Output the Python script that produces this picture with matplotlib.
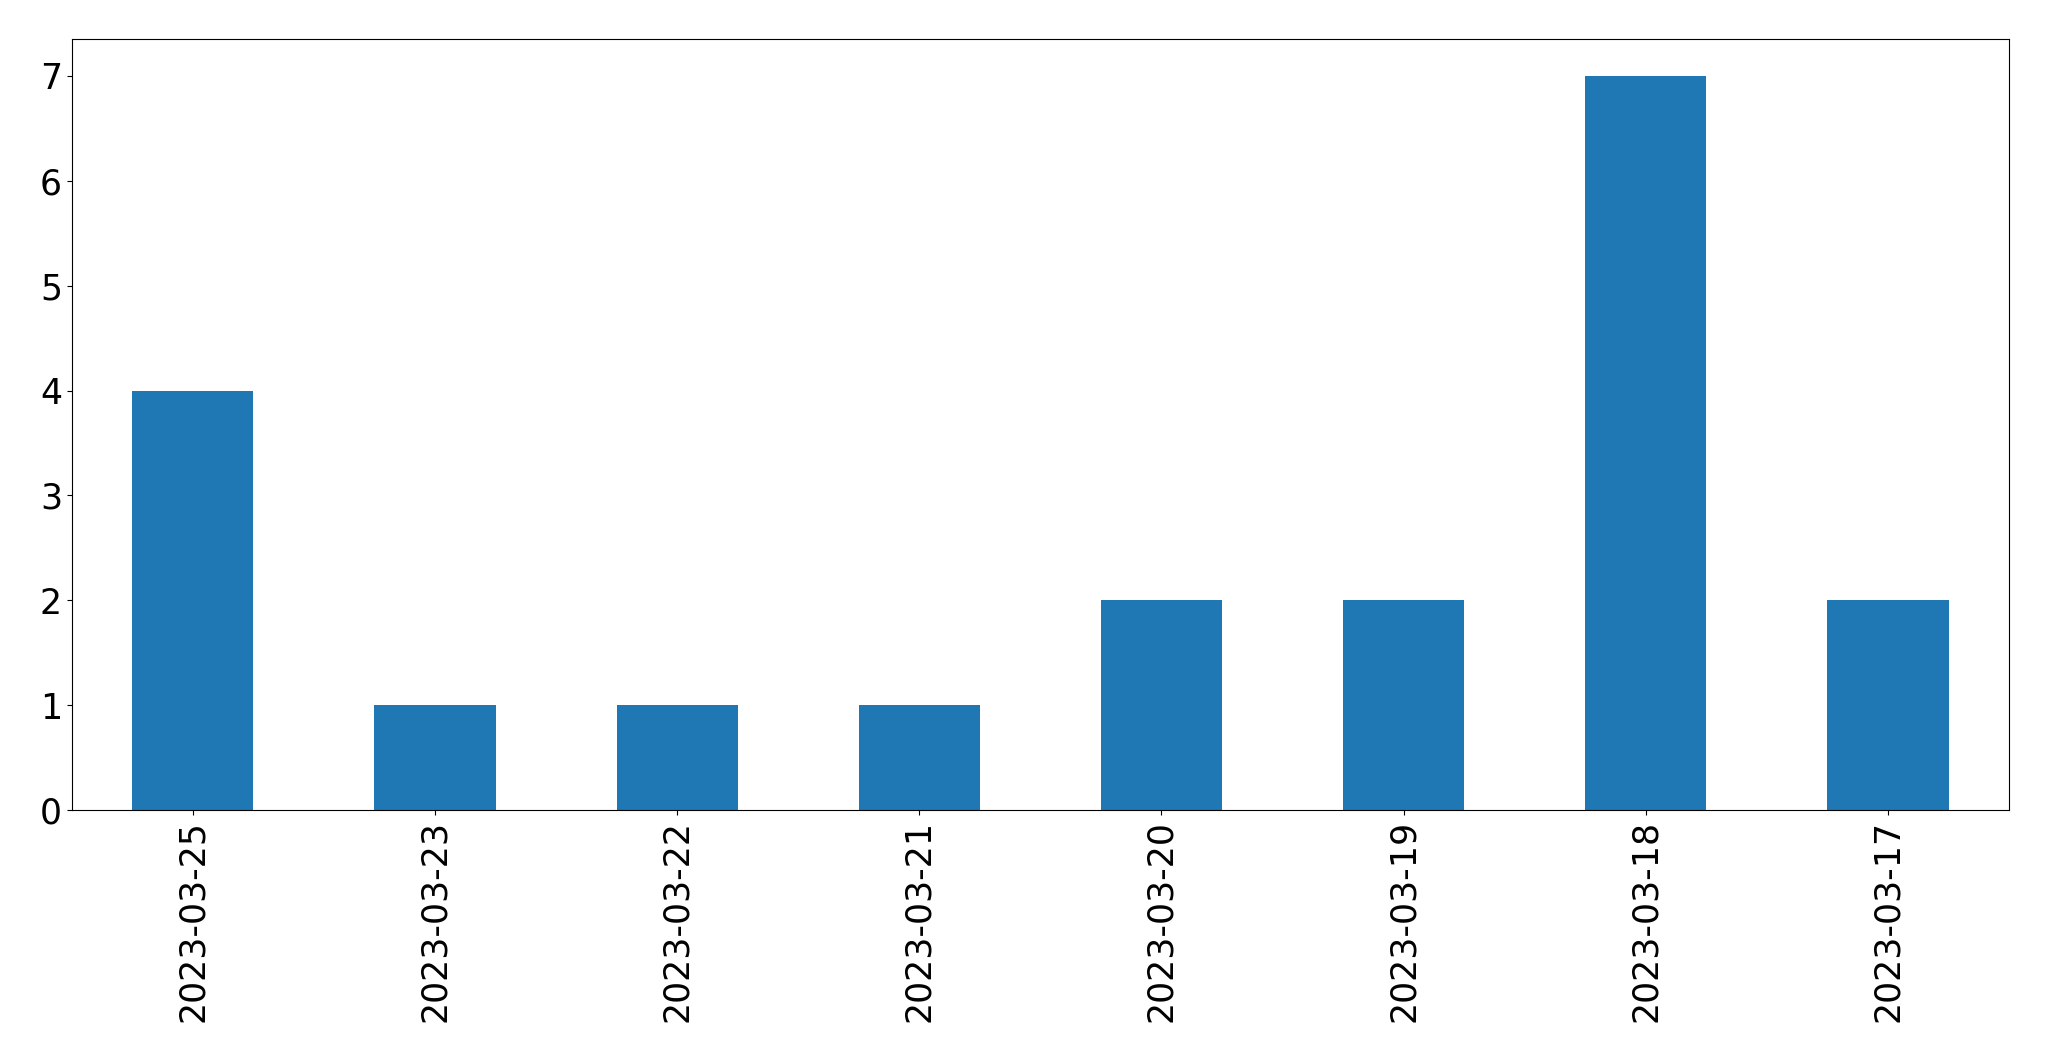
import numpy as np
import pandas as pd
from matplotlib import pyplot as plt

dates = ['2023-03-25', '2023-03-23', '2023-03-22', '2023-03-21',
         '2023-03-20', '2023-03-19', '2023-03-18', '2023-03-17']
counts = [4, 1, 1, 1, 2, 2, 7, 2]

s = pd.Series(counts, index=dates)

fig, ax = plt.subplots(figsize=(20.49, 10.61), dpi=100)
s.plot(kind='bar', ax=ax, color='#1f77b4')
ax.tick_params(axis='both', labelsize=25)
fig.subplots_adjust(left=0.035, right=0.9805, top=0.963, bottom=0.2366)
fig.savefig('out.png', dpi=100)
